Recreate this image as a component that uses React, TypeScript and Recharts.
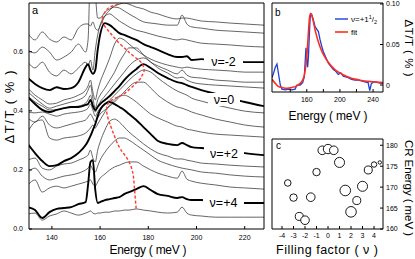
import { LineChart, Line, XAxis, YAxis, ScatterChart, Scatter } from "recharts";

const FONT = '"Liberation Sans", Arial, Helvetica, sans-serif';

// photon energy grid (meV) shared by every trace in panel a
const energy = [130, 133, 136, 139, 142, 145, 148, 151, 154, 155, 156, 157, 158, 159, 160, 162, 164, 166, 168, 170, 172, 175, 178, 181, 184, 188, 192, 194, 196, 198, 202, 208, 214, 220, 228];

// dT/T (%) traces as plotted (with offsets), one per filling factor
const nuM35 = [.663, .640, .667, .643, .633, .650, .640, .680, .694, .694, .687, .701, .680, .673, .687, .721, .741, .755, .761, .765, .761, .751, .745, .734, .728, .717, .711, .714, .714, .711, .704, .701, .697, .694, .690];
const nuM30 = [.606, .596, .616, .599, .572, .582, .599, .626, .599, .640, .910, .978, .809, .714, .714, .734, .745, .751, .748, .738, .728, .714, .701, .697, .694, .690, .690, .724, .694, .684, .680, .673, .670, .667, .663];
const nuM25 = [.565, .545, .565, .531, .518, .538, .525, .545, .565, .552, .572, .538, .606, .657, .690, .721, .728, .717, .704, .694, .684, .673, .667, .660, .653, .646, .640, .643, .640, .636, .629, .626, .623, .619, .616];
const nuM20 = [.511, .491, .477, .470, .480, .474, .477, .497, .548, .558, .538, .525, .538, .606, .657, .697, .690, .677, .663, .657, .650, .640, .626, .616, .606, .592, .582, .582, .585, .572, .575, .568, .568, .565, .565];
const nuM15 = [.477, .453, .437, .423, .426, .437, .443, .453, .470, .484, .504, .464, .437, .470, .497, .538, .579, .626, .646, .640, .626, .606, .589, .575, .565, .555, .548, .545, .548, .545, .541, .538, .535, .531, .531];
const nuM10 = [.464, .443, .423, .409, .416, .423, .430, .437, .453, .470, .487, .443, .409, .437, .453, .477, .504, .531, .565, .592, .613, .613, .589, .565, .552, .538, .525, .538, .521, .514, .511, .504, .501, .497, .497];
const nuM05 = [.450, .430, .416, .403, .403, .409, .413, .416, .426, .437, .453, .420, .396, .416, .430, .450, .470, .491, .511, .531, .552, .572, .579, .565, .545, .528, .511, .514, .504, .497, .491, .487, .484, .481, .477];
const nu00 = [.447, .423, .403, .396, .403, .409, .413, .413, .420, .423, .437, .416, .403, .413, .423, .437, .450, .467, .484, .504, .521, .541, .558, .545, .528, .511, .497, .494, .487, .481, .470, .457, .443, .430, .416];
const nuP05 = [.396, .393, .396, .389, .382, .389, .393, .396, .403, .409, .423, .403, .382, .396, .409, .423, .437, .453, .470, .487, .504, .525, .538, .531, .511, .487, .467, .460, .453, .443, .433, .420, .409, .399, .393];
const nuP10 = [.376, .362, .382, .352, .342, .348, .355, .362, .369, .379, .389, .376, .362, .376, .389, .403, .416, .430, .447, .464, .481, .497, .497, .477, .453, .430, .413, .409, .403, .396, .386, .372, .362, .352, .345];
const nuP15 = [.328, .362, .369, .308, .301, .308, .311, .315, .325, .332, .342, .352, .342, .355, .369, .396, .420, .437, .450, .453, .447, .430, .409, .389, .376, .362, .348, .345, .338, .335, .328, .321, .318, .315, .311];
const nuP20 = [.288, .257, .230, .213, .216, .230, .240, .257, .284, .298, .315, .335, .355, .382, .403, .423, .430, .423, .413, .403, .389, .369, .345, .321, .298, .288, .284, .291, .284, .277, .274, .271, .264, .257, .250];
const nuP25 = [.233, .240, .206, .200, .213, .220, .223, .233, .244, .250, .267, .240, .227, .267, .294, .335, .365, .372, .362, .345, .328, .308, .288, .271, .257, .247, .237, .237, .233, .230, .223, .220, .216, .213, .210];
const nuP30 = [.193, .206, .179, .166, .172, .179, .183, .189, .200, .206, .216, .200, .193, .213, .233, .260, .281, .298, .308, .308, .301, .284, .267, .250, .233, .220, .210, .206, .203, .200, .193, .189, .183, .179, .176];
const nuP35 = [.149, .166, .125, .139, .145, .139, .145, .152, .159, .162, .166, .152, .145, .159, .172, .186, .200, .210, .216, .223, .227, .227, .213, .200, .189, .179, .172, .196, .169, .162, .155, .149, .142, .139, .135];
const nuP40 = [.074, .064, .037, .057, .068, .071, .074, .084, .091, .149, .227, .233, .132, .088, .091, .098, .101, .105, .108, .118, .125, .135, .145, .132, .118, .112, .105, .108, .101, .098, .098, .095, .091, .088, .088];
const nuP45 = [.051, .054, .030, .044, .051, .061, .054, .047, .054, .057, .061, .054, .051, .054, .054, .057, .057, .061, .061, .064, .064, .068, .064, .061, .057, .054, .057, .074, .054, .047, .044, .040, .040, .040, .040];

const traces = [
  { nu: -3.5, vals: nuM35 }, { nu: -3, vals: nuM30 }, { nu: -2.5, vals: nuM25 }, { nu: -2, vals: nuM20 },
  { nu: -1.5, vals: nuM15 }, { nu: -1, vals: nuM10 }, { nu: -0.5, vals: nuM05 }, { nu: 0, vals: nu00 },
  { nu: 0.5, vals: nuP05 }, { nu: 1, vals: nuP10 }, { nu: 1.5, vals: nuP15 }, { nu: 2, vals: nuP20 },
  { nu: 2.5, vals: nuP25 }, { nu: 3, vals: nuP30 }, { nu: 3.5, vals: nuP35 }, { nu: 4, vals: nuP40 },
  { nu: 4.5, vals: nuP45 },
];
const thickNu = [-2, 0, 2, 4];

// dashed red track of the CR peak through the traces
const trackE = [169, 167.5, 164, 162, 160.8, 162.5, 165, 167.9, 171, 173.3, 176, 177.5, 178.3, 177.5, 176.3, 172.9, 169.2, 165, 162.9, 162.8, 163.5, 165, 167.9, 170.8, 173.3, 174.2, 175];
const trackV = [.772, .761, .751, .734, .707, .680, .656, .629, .606, .589, .572, .558, .538, .521, .505, .478, .454, .437, .417, .393, .369, .335, .278, .244, .200, .143, .065];

// panel b: nu = +1 1/2 spectrum and its fit
const specE = [118, 120, 122, 124, 126, 128, 130, 134, 138, 142, 146, 148, 152, 155, 157, 158, 159, 160, 161, 162, 163, 164, 165, 166, 168, 170, 172, 174, 176, 178, 180, 183, 186, 189, 192, 195, 198, 201, 204, 207, 210, 214, 218, 222, 226, 230, 234, 236, 238, 242, 246, 250, 252];
const specV = [.009, .015, .022, .026, .013, 0, -.005, -.006, -.005, -.006, -.005, 0, 0, .003, .01, .028, .046, .032, .022, .035, .06, .082, .088, .087, .08, .072, .069, .066, .056, .048, .041, .034, .027, .023, .019, .017, .013, .015, .011, .01, .009, .007, .006, .006, .005, .004, .003, -.007, .002, .004, .003, .002, .002];
const fitE = [118, 122, 126, 130, 136, 142, 148, 152, 155, 157, 159, 160, 161, 162, 163, 164, 165, 166, 168, 170, 172, 175, 178, 182, 186, 190, 195, 200, 205, 210, 215, 220, 230, 240, 252];
const fitV = [.007, .002, -.002, -.003, -.004, -.003, -.001, .002, .006, .012, .025, .035, .05, .065, .08, .087, .088, .086, .078, .068, .06, .05, .042, .034, .028, .023, .018, .015, .012, .01, .008, .007, .005, .004, .003];

// panel c: CR energy vs filling factor, circle area ~ peak amplitude
const fillNu = [-3.5, -3, -2.5, -2, -1.5, -1, -0.5, 0, 0.5, 1, 1.5, 2, 2.5, 3, 3.5, 4, 4.5];
const crEnergy = [171, 167.5, 163, 162.1, 167.6, 173.6, 178.8, 179.1, 178.8, 175.9, 169.2, 164.1, 166.8, 170.2, 174.1, 175.4, 175.9];
const crAmp = [.038, .048, .056, .065, .065, .048, .065, .077, .065, .088, .098, .098, .056, .088, .056, .026, .010];

const pts = (xs: number[], ys: number[]) => xs.map((e, i) => ({ e, v: ys[i] }));
const tk = { fontSize: 7, fill: "#000", fontFamily: FONT };
const ax = { stroke: "#000", strokeWidth: 1 };

function PanelA() {
  const dom: [number, number] = [130.5, 228];
  const xt = [140, 160, 180, 200, 220];
  const yt = [0, 0.2, 0.4, 0.6];
  return (
    <LineChart width={266} height={259} margin={{ top: 0, right: 0, bottom: 0, left: 0 }}>
      <XAxis type="number" dataKey="e" domain={dom} allowDataOverflow ticks={xt} tick={tk} tickSize={-3} tickMargin={9} height={30} axisLine={ax} tickLine={ax} />
      <XAxis xAxisId="t" orientation="top" type="number" dataKey="e" domain={dom} allowDataOverflow ticks={xt} tick={false} tickSize={-3} height={3} axisLine={ax} tickLine={ax} />
      <YAxis type="number" domain={[0, 0.765]} allowDataOverflow ticks={yt} tickFormatter={(v: number) => v.toFixed(1)} tick={tk} tickSize={-3} tickMargin={9} width={29} axisLine={ax} tickLine={ax} />
      <YAxis yAxisId="r" orientation="right" type="number" domain={[0, 0.765]} allowDataOverflow ticks={yt} tick={false} tickSize={-3} width={2} axisLine={ax} tickLine={ax} />
      {traces.filter((t) => !thickNu.includes(t.nu)).map((t) => (
        <Line key={t.nu} data={pts(energy, t.vals)} dataKey="v" type="monotone" stroke="#333" strokeWidth={0.75} dot={false} activeDot={false} isAnimationActive={false} />
      ))}
      {traces.filter((t) => thickNu.includes(t.nu)).map((t) => (
        <Line key={t.nu} data={pts(energy, t.vals)} dataKey="v" type="monotone" stroke="#000" strokeWidth={1.9} dot={false} activeDot={false} isAnimationActive={false} />
      ))}
      <Line data={pts(trackE, trackV)} dataKey="v" type="natural" stroke="#ff3b2f" strokeWidth={1.4} strokeDasharray="3 2" dot={false} activeDot={false} isAnimationActive={false} />
    </LineChart>
  );
}

function PanelB() {
  const dom: [number, number] = [118, 252];
  const xt = [140, 160, 180, 200, 220, 240];
  const yt = [0, 0.05, 0.1];
  const yd: [number, number] = [-0.0086, 0.1012];
  return (
    <LineChart width={147} height={130} margin={{ top: 0, right: 0, bottom: 0, left: 0 }}>
      <XAxis type="number" dataKey="e" domain={dom} allowDataOverflow ticks={xt} tickFormatter={(v: number) => (v % 40 === 0 ? String(v) : "")} tick={tk} tickSize={-3} tickMargin={8} height={38} axisLine={ax} tickLine={ax} />
      <XAxis xAxisId="t" orientation="top" type="number" dataKey="e" domain={dom} allowDataOverflow ticks={xt} tick={false} tickSize={-3} height={3} axisLine={ax} tickLine={ax} />
      <YAxis orientation="right" type="number" domain={yd} allowDataOverflow ticks={yt} tickFormatter={(v: number) => (v === 0 ? "0" : v.toFixed(2))} tick={tk} tickSize={-3} tickMargin={6} width={32} axisLine={ax} tickLine={ax} />
      <YAxis yAxisId="l" orientation="left" type="number" domain={yd} allowDataOverflow ticks={yt} tick={false} tickSize={-3} width={4} axisLine={ax} tickLine={ax} />
      <Line data={pts(specE, specV)} dataKey="v" type="linear" stroke="#1c3fdc" strokeWidth={1.3} dot={false} activeDot={false} isAnimationActive={false} />
      <Line data={pts(fitE, fitV)} dataKey="v" type="monotone" stroke="#ff2d1f" strokeWidth={1.6} dot={false} activeDot={false} isAnimationActive={false} />
    </LineChart>
  );
}

// circle area proportional to amplitude: 0.1 % -> 90 px^2
const ampRadius = (amp: number) => Math.sqrt(((amp / 0.1) * 90) / Math.PI);

function PanelC() {
  const dom: [number, number] = [-4.87, 4.78];
  const xt = [-4, -3, -2, -1, 0, 1, 2, 3, 4];
  const yt = [160, 165, 170, 175, 180];
  const yd: [number, number] = [160, 181.5];
  const data = fillNu.map((nu, i) => ({ nu, cr: crEnergy[i], amp: crAmp[i] }));
  return (
    <ScatterChart width={147} height={123} margin={{ top: 0, right: 0, bottom: 0, left: 0 }}>
      <XAxis type="number" dataKey="nu" domain={dom} allowDataOverflow ticks={xt} tick={tk} tickSize={-3} tickMargin={7} height={30} axisLine={ax} tickLine={ax} />
      <XAxis xAxisId="t" orientation="top" type="number" dataKey="nu" domain={dom} allowDataOverflow ticks={xt} tick={false} tickSize={-3} height={3} axisLine={ax} tickLine={ax} />
      <YAxis orientation="right" type="number" dataKey="cr" domain={yd} allowDataOverflow ticks={yt} tick={tk} tickSize={-3} tickMargin={6} width={32} axisLine={ax} tickLine={ax} />
      <YAxis yAxisId="l" orientation="left" type="number" dataKey="cr" domain={yd} allowDataOverflow ticks={yt} tick={false} tickSize={-3} width={4} axisLine={ax} tickLine={ax} />
      <Scatter
        data={data}
        isAnimationActive={false}
        shape={(p: any) => <circle cx={p.cx} cy={p.cy} r={ampRadius(p.payload.amp)} fill="#fff" stroke="#000" strokeWidth={0.9} />}
      />
    </ScatterChart>
  );
}

function NuLabel({ x0, x1, y, text }: { x0: number; x1: number; y: number; text: string }) {
  return (
    <g>
      <rect x={x0} y={y - 7} width={x1 - x0} height={13} fill="#fff" />
      <text x={(x0 + x1) / 2} y={y + 4} textAnchor="middle" fontSize={12.5}>{text}</text>
    </g>
  );
}

export default function App() {
  return (
    <div style={{ position: "absolute", left: 0, top: 0, width: 415, height: 259, background: "#fff", overflow: "hidden" }}>
      <div style={{ position: "absolute", left: 0, top: 0 }}><PanelA /></div>
      <div style={{ position: "absolute", left: 268, top: 0 }}><PanelB /></div>
      <div style={{ position: "absolute", left: 268, top: 136 }}><PanelC /></div>
      <svg width={415} height={259} style={{ position: "absolute", left: 0, top: 0, pointerEvents: "none" }} fontFamily={FONT} fill="#000">
        <NuLabel x0={204} x1={243} y={61.5} text="ν=-2" />
        <NuLabel x0={208} x1={240} y={100} text="ν=0" />
        <NuLabel x0={204} x1={244} y={153.5} text="ν=+2" />
        <NuLabel x0={203} x1={244} y={202.5} text="ν=+4" />

        <text x={32} y={14} fontSize={11}>a</text>
        <text x={275} y={16} fontSize={10}>b</text>
        <text x={276} y={149} fontSize={10}>c</text>

        <text transform="translate(14,107) rotate(-90)" textAnchor="middle" fontSize={13} textLength={73} lengthAdjust="spacing">ΔT/T ( % )</text>
        <text x={148} y={254} textAnchor="middle" fontSize={12} textLength={77} lengthAdjust="spacing">Energy ( meV )</text>
        <text x={328} y={120} textAnchor="middle" fontSize={12} textLength={79} lengthAdjust="spacing">Energy ( meV )</text>
        <text x={327} y={254} textAnchor="middle" fontSize={12.5} textLength={102} lengthAdjust="spacing">Filling factor ( ν )</text>
        <text transform="translate(404.5,48) rotate(90)" textAnchor="middle" fontSize={11.5} textLength={57} lengthAdjust="spacing">ΔT/T ( % )</text>
        <text transform="translate(404.5,188) rotate(90)" textAnchor="middle" fontSize={11.5} textLength={96} lengthAdjust="spacing">CR Energy ( meV )</text>

        <line x1={335} y1={19} x2={348} y2={19} stroke="#1c3fdc" strokeWidth={1.4} />
        <text x={351} y={22} fontSize={8}>ν=+1<tspan dy={-3} fontSize={5.5}>1</tspan><tspan dy={3} fontSize={8}>/</tspan><tspan dy={1.5} fontSize={5.5}>2</tspan></text>
        <line x1={335} y1={32} x2={348} y2={32} stroke="#ff2d1f" strokeWidth={1.6} />
        <text x={351} y={35} fontSize={8}>fit</text>
      </svg>
    </div>
  );
}
